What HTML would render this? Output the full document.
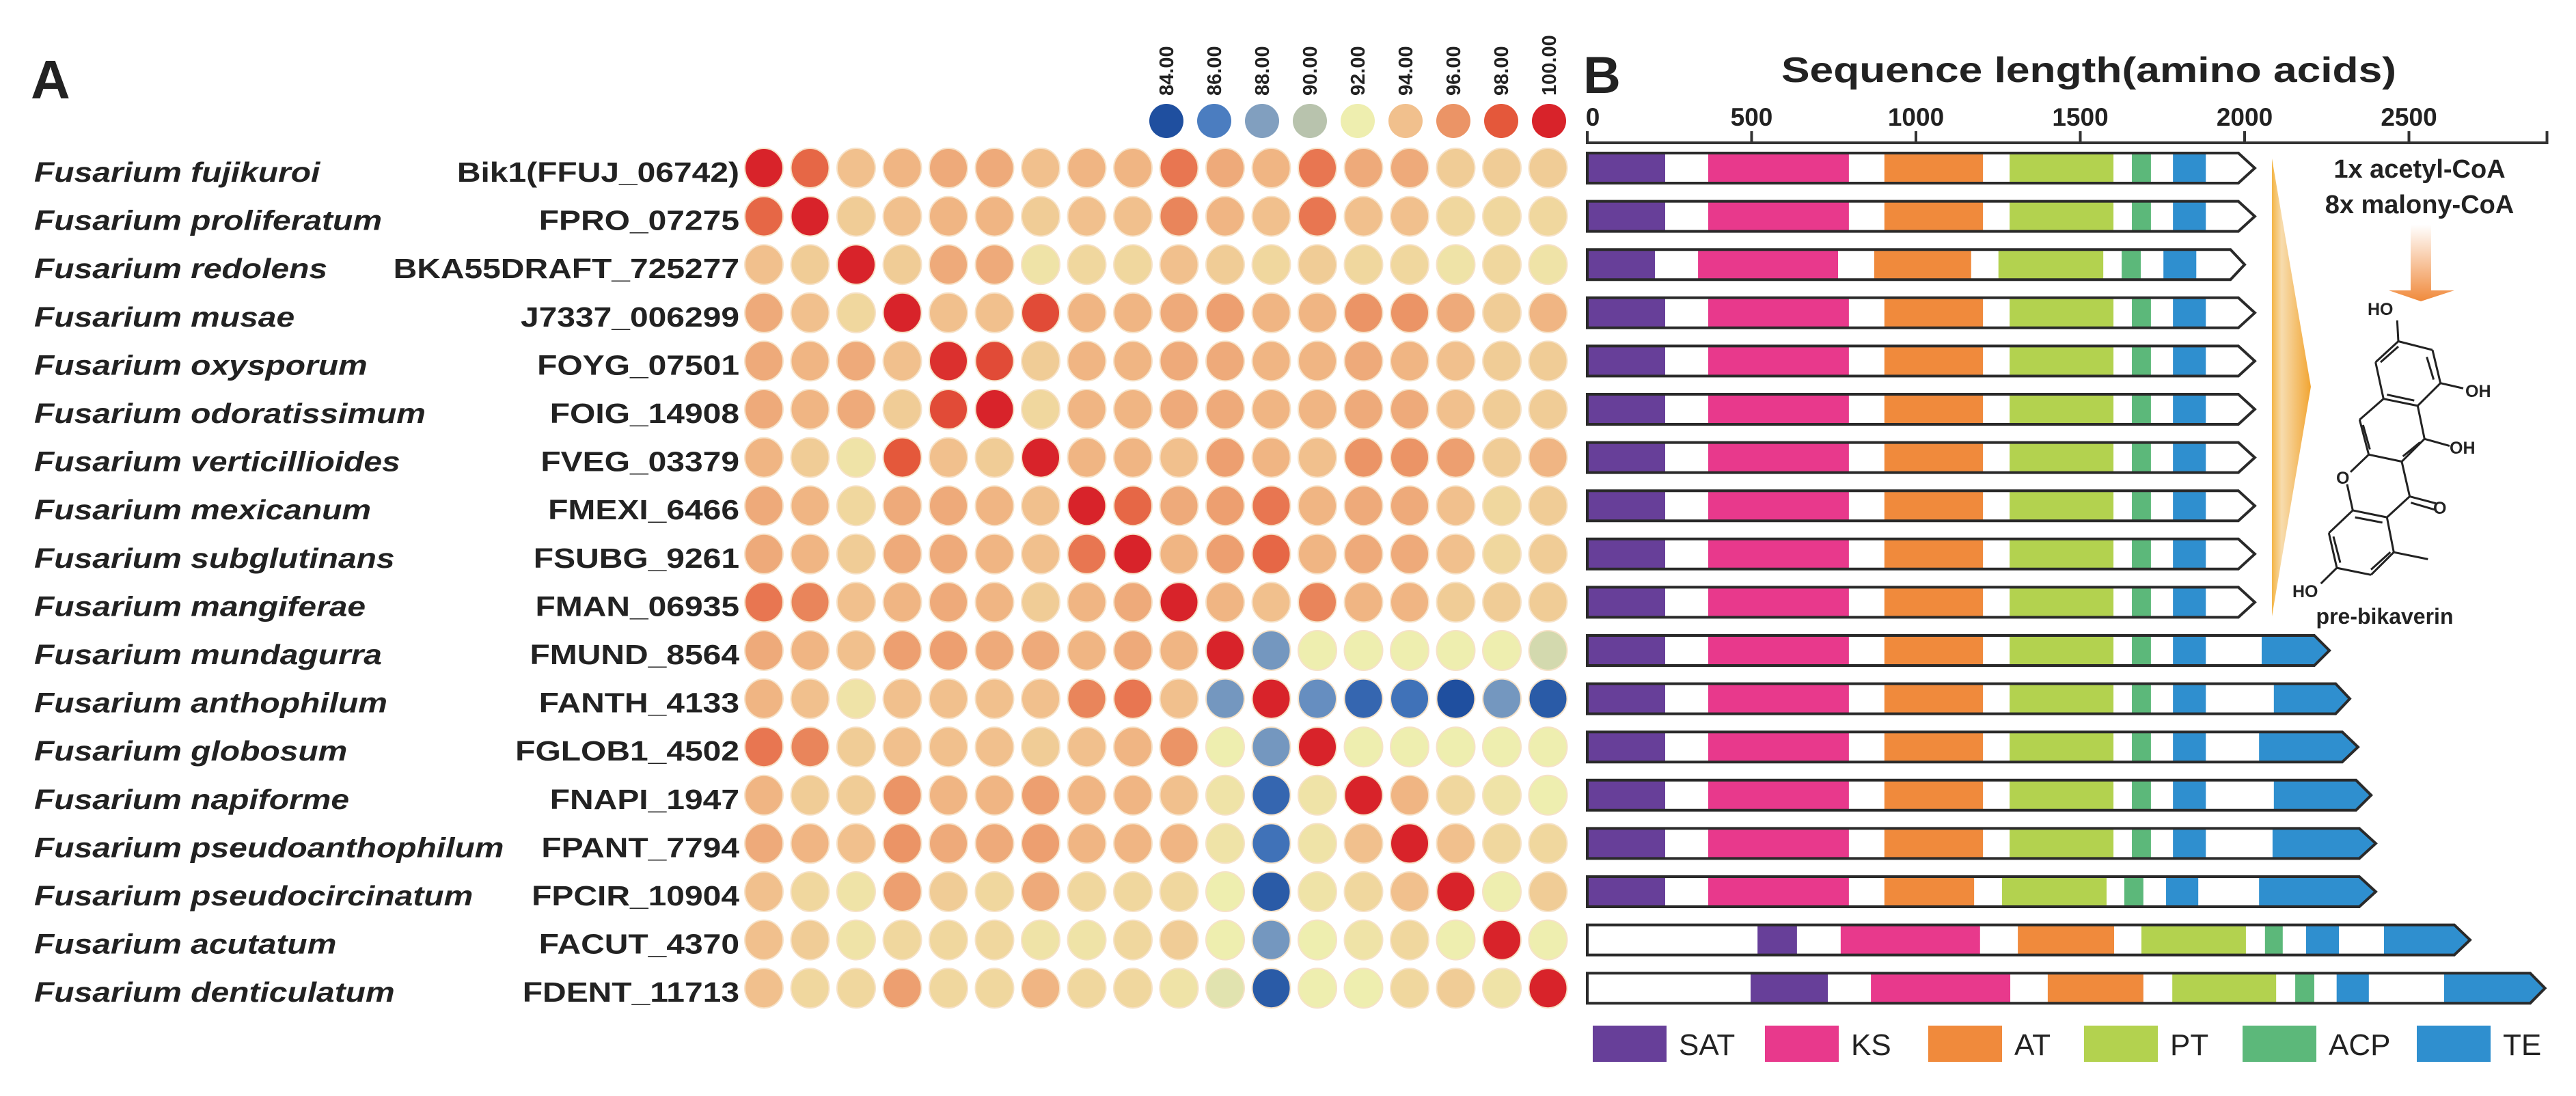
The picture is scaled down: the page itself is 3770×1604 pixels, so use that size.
<!DOCTYPE html>
<html><head><meta charset="utf-8"><style>
html,body{margin:0;padding:0;background:#fff;}
svg{display:block;}
text{font-family:"Liberation Sans",Arial,sans-serif;fill:#222;}
</style></head><body>
<svg id="fig" width="3770" height="1604" viewBox="0 0 3770 1604" xmlns="http://www.w3.org/2000/svg">
<defs>
<linearGradient id="chev" x1="0" y1="0" x2="1" y2="0"><stop offset="0" stop-color="#f4b545"/><stop offset="0.25" stop-color="#f7dcae"/><stop offset="1" stop-color="#f2a532"/></linearGradient>
<linearGradient id="darr" x1="0" y1="0" x2="0" y2="1"><stop offset="0" stop-color="#fff"/><stop offset="1" stop-color="#f08a3c"/></linearGradient>
</defs>
<text x="45" y="144" font-size="80" font-weight="bold">A</text>
<text x="2317" y="136" font-size="76" font-weight="bold">B</text>
<text x="3057" y="120" font-size="52" font-weight="bold" text-anchor="middle" textLength="900" lengthAdjust="spacingAndGlyphs">Sequence length(amino acids)</text>
<g id="heat"></g>
<g id="scale"></g>
<g id="axis"></g>
<g id="bars"></g>
<g id="dlegend"></g>
<g>
<polygon points="3325,232 3382,566 3325,902" fill="url(#chev)"/>
<text x="3541" y="260" font-size="38" font-weight="bold" text-anchor="middle">1x acetyl-CoA</text>
<text x="3541" y="312" font-size="38" font-weight="bold" text-anchor="middle">8x malony-CoA</text>
<polygon points="3528,329 3558,329 3558,425 3592,425 3543,441 3496,425 3528,425" fill="url(#darr)"/>
<g transform="translate(3280,150) scale(0.3333,0.5102)" fill="none" stroke="#222" stroke-width="3" id="mol"></g>
<text x="3465" y="461" font-size="25" font-weight="bold">HO</text>
<text x="3608" y="581" font-size="25" font-weight="bold">OH</text>
<text x="3585" y="664" font-size="25" font-weight="bold">OH</text>
<text x="3419" y="708" font-size="25" font-weight="bold">O</text>
<text x="3561" y="752" font-size="25" font-weight="bold">O</text>
<text x="3355" y="874" font-size="25" font-weight="bold">HO</text>
<text x="3490" y="913" font-size="32" font-weight="bold" text-anchor="middle">pre-bikaverin</text>
</g>
</svg>
<script>
const NS='http://www.w3.org/2000/svg';
const species=['Fusarium fujikuroi','Fusarium proliferatum','Fusarium redolens','Fusarium musae','Fusarium oxysporum','Fusarium odoratissimum','Fusarium verticillioides','Fusarium mexicanum','Fusarium subglutinans','Fusarium mangiferae','Fusarium mundagurra','Fusarium anthophilum','Fusarium globosum','Fusarium napiforme','Fusarium pseudoanthophilum','Fusarium pseudocircinatum','Fusarium acutatum','Fusarium denticulatum'];
const geneIds=['Bik1(FFUJ_06742)','FPRO_07275','BKA55DRAFT_725277','J7337_006299','FOYG_07501','FOIG_14908','FVEG_03379','FMEXI_6466','FSUBG_9261','FMAN_06935','FMUND_8564','FANTH_4133','FGLOB1_4502','FNAPI_1947','FPANT_7794','FPCIR_10904','FACUT_4370','FDENT_11713'];
const identity=[
[100,97.5,94,94.5,95,95,94,94.5,94.5,97,95,94.5,97,95,95,93.5,93.5,93.5],
[97.5,100,93.5,94,94.5,94.5,93.5,94,94,96.5,94.5,94,97,94,94,93,93,93],
[94,93.5,100,93.5,95,95,92.5,93,93,94,93.5,93,93.5,93,93,92.5,93,92.5],
[95,94,93,100,94,94,98.5,94.5,94.5,95,95.5,94.5,94.5,96,96,95,93.5,94.5],
[95,94.5,95,94,99.5,98.5,93.5,94.5,94.5,95,95,94.5,94.5,95,94.5,94,93.5,93.5],
[95,94.5,95,93.5,98.5,100,93,94.5,94.5,95,95,94.5,94.5,95,95,94,93.5,93.5],
[94.5,93.5,92.5,98,94,93.5,100,94.5,94.5,94,95.5,94.5,94,96,96,95.5,93.5,94.5],
[95,94.5,93,95,95,94.5,94,100,97.5,95,95.5,97,94.5,95,95,94,93,93.5],
[95,94.5,93.5,95,95,94.5,94,97,100,94.5,95.5,97.5,94.5,95,95,94,93,93.5],
[97,96.5,94,94.5,95,94.5,93.5,94.5,95,100,94.5,94,96.5,94.5,94.5,93.5,93.5,93.5],
[95,94.5,94,95.5,95.5,95,95,94.5,95,94.5,100,87.5,92,92,92,92,92,91],
[94.5,94,92.5,94,94,94,94,96.5,97,94,87.5,100,87,85,85.5,84,87.5,84.5],
[97,96.5,93.5,94,94,94,93.5,94,94.5,96,92,87.5,100,92,92,92,92,92],
[94.5,93.5,93.5,96,94.5,94.5,95.5,94.5,94.5,94,92.5,85,92.5,100,94.5,93,92.5,92],
[95,94.5,94,96,95,95,95.5,94.5,94.5,94.5,92.5,85.5,92.5,94,100,94,93,93],
[94,93,92.5,95.5,93.5,93,95,93,93,93,92,84.5,92.5,93,94,100,92,93.5],
[94,93.5,92.5,93,93,93,92.5,92.5,93,93.5,92,87.5,92,92.5,93,92,100,92],
[94,93,93,95.5,93,93,94.5,93,93,92.5,91.5,84.5,92,92,93,93.5,92.5,100]];
const scaleValues=[84,86,88,90,92,94,96,98,100];
const scaleLabels=['84.00','86.00','88.00','90.00','92.00','94.00','96.00','98.00','100.00'];
const scaleColors=['#1f4f9f','#4b7dc0','#819fbf','#b8c3ad','#eeeeaf','#f1c08d','#eb9466','#e4583b','#d8232a'];
const axisTicks=[0,500,1000,1500,2000,2500];
const axisMax=2920;
const domainNames=['SAT','KS','AT','PT','ACP','TE'];
const domainColors=['#673f99','#e8398c','#f08a3c','#b3d24f','#5cb87a','#2f8fcf'];
const proteinLength=[2031,2031,2000,2031,2031,2031,2031,2031,2031,2031,2258,2320,2345,2385,2399,2399,2686,2914];
const bodyLength=[1981,1981,1957,1981,1981,1981,1981,1981,1981,1981,2212,2277,2297,2339,2349,2349,2638,2869];
const std=[['SAT',0,237],['KS',368,796],['AT',904,1204],['PT',1285,1601],['ACP',1657,1715],['TE',1782,1882]];
const domains=[std,std,
[['SAT',0,206],['KS',337,763],['AT',873,1168],['PT',1251,1570],['ACP',1626,1684],['TE',1753,1853]],
std,std,std,std,std,std,std,
std.concat([['TE',2052,2212]]),
std.concat([['TE',2089,2277]]),
std.concat([['TE',2044,2297]]),
std.concat([['TE',2089,2339]]),
std.concat([['TE',2085,2349]]),
[['SAT',0,237],['KS',368,796],['AT',904,1177],['PT',1262,1580],['ACP',1634,1692],['TE',1761,1859],['TE',2044,2349]],
[['SAT',518,638],['KS',771,1195],['AT',1310,1603],['PT',1686,2004],['ACP',2062,2116],['TE',2187,2287],['TE',2424,2638]],
[['SAT',497,732],['KS',863,1287],['AT',1401,1692],['PT',1780,2096],['ACP',2154,2212],['TE',2280,2378],['TE',2607,2869]]];

const rowY=i=>246+i*70.6;
const colX=j=>1118+j*67.5;
const xLen=v=>2323+v*0.481;
function el(tag,attrs,parent){const e=document.createElementNS(NS,tag);for(const k in attrs)e.setAttribute(k,attrs[k]);parent.appendChild(e);return e;}
function hex(c){return [1,3,5].map(i=>parseInt(c.substr(i,2),16));}
function colorFor(v){
  if(v<=scaleValues[0])return scaleColors[0];
  for(let k=0;k<scaleValues.length-1;k++){
    if(v<=scaleValues[k+1]){const t=(v-scaleValues[k])/(scaleValues[k+1]-scaleValues[k]);
      const a=hex(scaleColors[k]),b=hex(scaleColors[k+1]);
      return 'rgb('+a.map((x,i)=>Math.round(x+(b[i]-x)*t)).join(',')+')';}
  }
  return scaleColors[scaleColors.length-1];
}
const heat=document.getElementById('heat');
species.forEach((s,i)=>{
  const t=el('text',{x:0,y:0,'font-size':41,'font-weight':'bold','font-style':'italic',transform:'translate(50,'+(rowY(i)+20)+') scale(1.17,1)'},heat);
  t.textContent=s;
  
  
  const g=el('text',{x:0,y:0,'font-size':41,'font-weight':'bold','text-anchor':'end',transform:'translate(1082,'+(rowY(i)+20)+') scale(1.17,1)'},heat);
  g.textContent=geneIds[i];
  
  
  identity[i].forEach((v,j)=>{
    const c=el('ellipse',{cx:colX(j),cy:rowY(i),rx:28,ry:29,fill:colorFor(v),stroke:'#f6e2c8','stroke-width':2},heat);
    
    
  });
});
const sc=document.getElementById('scale');
scaleValues.forEach((v,k)=>{
  const x=1707+k*70;
  const c=el('circle',{cx:x,cy:177,r:25,fill:colorFor(v)},sc);
  
  
  const t=el('text',{x:0,y:0,'font-size':29,'font-weight':'bold',transform:'translate('+(x+10)+',140) rotate(-90)'},sc);
  t.textContent=scaleLabels[k];
  
  
});
const ax=document.getElementById('axis');
const al=el('line',{x1:xLen(0),y1:209,x2:xLen(axisMax),y2:209,stroke:'#333','stroke-width':4},ax);


el('line',{x1:xLen(axisMax),y1:192,x2:xLen(axisMax),y2:211,stroke:'#333','stroke-width':4},ax);
axisTicks.forEach(v=>{
  const tk=el('line',{x1:xLen(v),y1:192,x2:xLen(v),y2:211,stroke:'#333','stroke-width':4},ax);
  
  
  const t=el('text',{x:xLen(v)+(v===0?8:0),y:184,'font-size':37,'font-weight':'bold','text-anchor':'middle'},ax);
  t.textContent=String(v);
  
  
});
const bars=document.getElementById('bars');
domains.forEach((ds,i)=>{
  const top=rowY(i)-22,bot=rowY(i)+22,mid=rowY(i);
  const g=el('g',{},bars);
  
  
  const x0=xLen(0),xe=xLen(bodyLength[i]),xt=xLen(proteinLength[i]);
  el('polygon',{points:`${x0},${top} ${xe},${top} ${xt},${mid} ${xe},${bot} ${x0},${bot}`,fill:'#fff'},g);
  ds.forEach(d=>{
    const idx=domainNames.indexOf(d[0]);
    let x2=xLen(d[2]);
    if(d[2]>=bodyLength[i]-1){
      const p=el('polygon',{points:`${xLen(d[1])},${top} ${xe},${top} ${xt},${mid} ${xe},${bot} ${xLen(d[1])},${bot}`,fill:domainColors[idx]},g);
      
      
    } else {
      const r=el('rect',{x:xLen(d[1]),y:top,width:x2-xLen(d[1]),height:bot-top,fill:domainColors[idx]},g);
      
      
    }
  });
  el('polygon',{points:`${x0},${top} ${xe},${top} ${xt},${mid} ${xe},${bot} ${x0},${bot}`,fill:'none',stroke:'#2a2a2a','stroke-width':4,'stroke-linejoin':'miter'},g);
});
const dl=document.getElementById('dlegend');
const lgX=[2331,2583,2822,3050,3282,3537];
domainNames.forEach((n,k)=>{
  const r=el('rect',{x:lgX[k],y:1501,width:108,height:53,fill:domainColors[k]},dl);
  
  
  const t=el('text',{x:lgX[k]+126,y:1544,'font-size':44,style:'font-family:"Liberation Sans Narrow","Liberation Sans",sans-serif'},dl);
  t.textContent=n;
  
  
});
const mol=document.getElementById('mol');
const bonds=[[685,625,690,685],[690,685,840,710],[840,710,875,805],[875,805,775,870],[775,870,625,850],[625,850,590,745],[590,745,690,685],
[815,730,845,795],[760,855,640,838],[612,745,690,700],[875,805,975,820],
[775,870,805,965],[805,965,705,1030],[705,1030,560,1010],[560,1010,520,910],[520,910,625,850],[785,975,710,1015],[535,925,565,995],[805,965,915,985],
[560,1010,480,1060],[465,1095,490,1170],[490,1170,640,1190],[640,1190,740,1130],[740,1130,705,1030],[740,1130,855,1150],[745,1148,850,1168],
[500,1190,620,1205],[640,1190,670,1290],[670,1290,570,1355],[570,1355,420,1335],[420,1335,385,1235],[385,1235,490,1170],[655,1290,570,1340],[405,1245,435,1320],[670,1290,820,1310],[420,1335,350,1380]];
bonds.forEach(b=>{
  const l=el('line',{x1:b[0],y1:b[1],x2:b[2],y2:b[3],'vector-effect':'non-scaling-stroke'},mol);
  
  
});
</script>
</body></html>
